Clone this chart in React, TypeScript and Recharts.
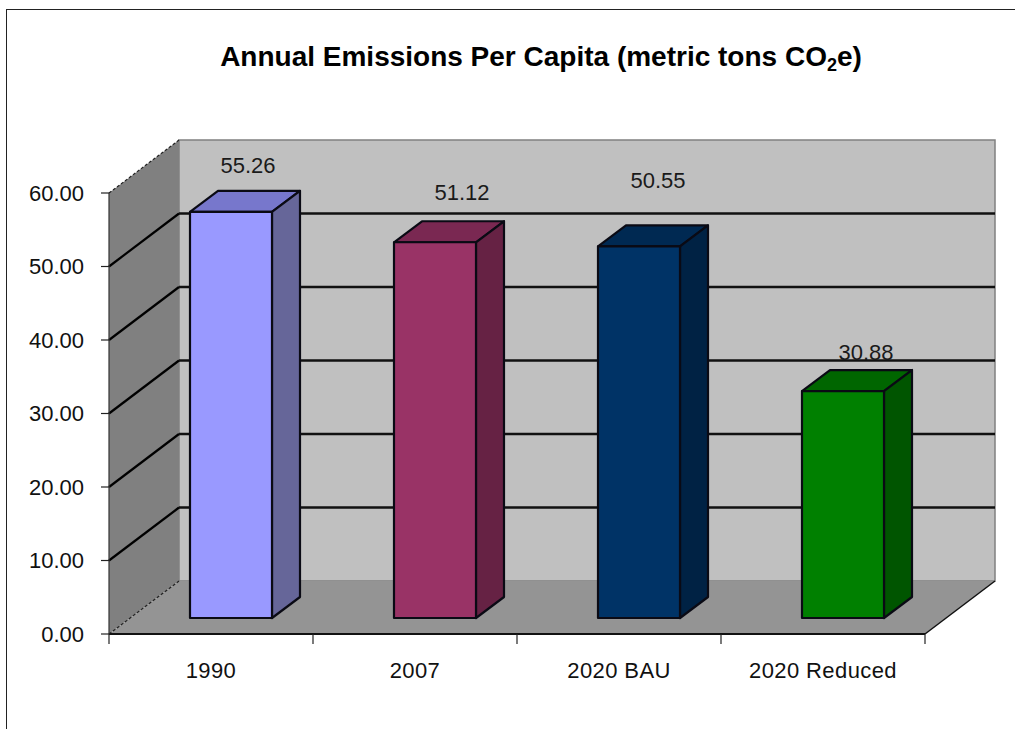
import { Bar, BarChart, CartesianGrid, LabelList, XAxis, YAxis, usePlotArea } from "recharts"

const categories = ["1990", "2007", "2020 BAU", "2020 Reduced"]
const emissions = [55.26, 51.12, 50.55, 30.88]
const yTicks = [0, 10, 20, 30, 40, 50, 60]

const chartData = categories.map((name, i) => ({ name, emissions: emissions[i] }))

const FONT = "'Liberation Sans', Arial, sans-serif"

// depth of the box the chart sits in, and of each column
const BOX_DX = 70
const BOX_DY = 53
const COL_DX = 28
const COL_DY = 21
// columns stand a little way in from the front edge of the floor
const COL_SHIFT_X = 20
const COL_SHIFT_Y = 16

const columnColors = [
  { front: "#9999ff", side: "#666699", top: "#7777cc" },
  { front: "#993366", side: "#662244", top: "#7a2852" },
  { front: "#003366", side: "#002244", top: "#002952" },
  { front: "#008000", side: "#005500", top: "#006600" },
]

// where each value label floats relative to the top of its column
const labelNudge = [
  { x: 3, y: -18 },
  { x: 13, y: -21 },
  { x: 5, y: -37 },
  { x: 9, y: -10 },
]

const pts = (list: number[][]) => list.map((p) => p.join(",")).join(" ")

function Walls() {
  const plot = usePlotArea()
  if (!plot) return null
  const left = plot.x
  const right = plot.x + plot.width
  const top = plot.y
  const bottom = plot.y + plot.height
  return (
    <g>
      <polygon
        points={pts([
          [left + BOX_DX, top - BOX_DY],
          [right + BOX_DX, top - BOX_DY],
          [right + BOX_DX, bottom - BOX_DY],
          [left + BOX_DX, bottom - BOX_DY],
        ])}
        fill="#c0c0c0"
        stroke="#808080"
        strokeWidth={1.5}
      />
      <polygon
        points={pts([
          [left, top],
          [left + BOX_DX, top - BOX_DY],
          [left + BOX_DX, bottom - BOX_DY],
          [left, bottom],
        ])}
        fill="#808080"
      />
      <polygon
        points={pts([
          [left, bottom],
          [left + BOX_DX, bottom - BOX_DY],
          [right + BOX_DX, bottom - BOX_DY],
          [right, bottom],
        ])}
        fill="#949494"
      />
      <line x1={right} y1={bottom} x2={right + BOX_DX} y2={bottom - BOX_DY} stroke="#111" strokeWidth={1.5} />
    </g>
  )
}

// one grid line runs up the side wall and then along the back wall
function gridLine(props: any) {
  const { x1, x2, y1, index } = props
  if (index === 0 || index === yTicks.length - 1) {
    return (
      <line
        key={props.key}
        x1={x1}
        y1={y1}
        x2={x1 + BOX_DX}
        y2={y1 - BOX_DY}
        stroke="#222"
        strokeWidth={1.2}
        strokeDasharray="3 2"
      />
    )
  }
  return (
    <g key={props.key}>
      <line x1={x1} y1={y1} x2={x1 + BOX_DX} y2={y1 - BOX_DY} stroke="#000" strokeWidth={2.2} />
      <line x1={x1 + BOX_DX} y1={y1 - BOX_DY} x2={x2 + BOX_DX} y2={y1 - BOX_DY} stroke="#111" strokeWidth={2.4} />
    </g>
  )
}

function Column(props: any) {
  const { x, y, width, height, index } = props
  const colors = columnColors[index]
  const l = x + COL_SHIFT_X
  const r = l + width
  const t = y - COL_SHIFT_Y
  const b = t + height
  return (
    <g stroke="#0a0a14" strokeWidth={2.2} strokeLinejoin="round">
      <polygon
        points={pts([
          [l, t],
          [l + COL_DX, t - COL_DY],
          [r + COL_DX, t - COL_DY],
          [r, t],
        ])}
        fill={colors.top}
      />
      <polygon
        points={pts([
          [r, t],
          [r + COL_DX, t - COL_DY],
          [r + COL_DX, b - COL_DY],
          [r, b],
        ])}
        fill={colors.side}
      />
      <rect x={l} y={t} width={width} height={height} fill={colors.front} />
    </g>
  )
}

function ValueLabel(props: any) {
  const { x, y, width, value, index } = props
  const nudge = labelNudge[index]
  return (
    <text
      x={x + width / 2 + COL_SHIFT_X + COL_DX / 2 + nudge.x}
      y={y - COL_SHIFT_Y - COL_DY + nudge.y}
      textAnchor="middle"
      fontFamily={FONT}
      fontSize={22}
      fill="#1a1a1a"
    >
      {Number(value).toFixed(2)}
    </text>
  )
}

// category name plus the tick marks at the edges of its band
function CategoryTick(props: any) {
  const { x, y, payload, index } = props
  const half = payload.offset ?? 102
  return (
    <g>
      <line x1={x - half} y1={y - 8} x2={x - half} y2={y + 2} stroke="#222" strokeWidth={1.2} />
      {index === categories.length - 1 && (
        <line x1={x + half} y1={y - 8} x2={x + half} y2={y + 2} stroke="#222" strokeWidth={1.2} />
      )}
      <text x={x} y={y + 36} textAnchor="middle" fontFamily={FONT} fontSize={22} fill="#111" style={{ letterSpacing: 0.4 }}>
        {payload.value}
      </text>
    </g>
  )
}

export default function App() {
  return (
    <div style={{ position: "absolute", left: 0, top: 0, width: 1015, height: 729, overflow: "hidden", background: "#fff" }}>
      <div
        style={{
          position: "absolute",
          left: 6,
          top: 9,
          width: 1040,
          height: 760,
          borderTop: "1.5px solid #222",
          borderLeft: "1.5px solid #222",
        }}
      />
      <BarChart
        width={1015}
        height={729}
        data={chartData}
        margin={{ top: 193, right: 90, bottom: 35, left: 9 }}
        style={{ position: "absolute", left: 0, top: 0 }}
      >
        <Walls />
        <CartesianGrid horizontal={gridLine} vertical={false} zIndex={100} />
        <XAxis
          dataKey="name"
          height={60}
          interval={0}
          tickLine={false}
          axisLine={{ stroke: "#111", strokeWidth: 2.2 }}
          tick={CategoryTick}
        />
        <YAxis
          width={100}
          domain={[0, 60]}
          ticks={yTicks}
          interval={0}
          tickSize={8}
          tickMargin={17}
          tickFormatter={(v: number) => v.toFixed(2)}
          tick={{ fontFamily: FONT, fontSize: 22, fill: "#111" }}
          tickLine={{ stroke: "#222", strokeWidth: 1.2 }}
          axisLine={{ stroke: "#333", strokeWidth: 1.2 }}
        />
        <Bar dataKey="emissions" barSize={82} shape={Column} isAnimationActive={false}>
          <LabelList dataKey="emissions" content={ValueLabel} />
        </Bar>
        <text x={541} y={66} textAnchor="middle" fontFamily={FONT} fontWeight="bold" fontSize={28} fill="#000">
          Annual Emissions Per Capita (metric tons CO
          <tspan fontSize={18} dy={5}>2</tspan>
          <tspan dy={-5}>e)</tspan>
        </text>
      </BarChart>
    </div>
  )
}
